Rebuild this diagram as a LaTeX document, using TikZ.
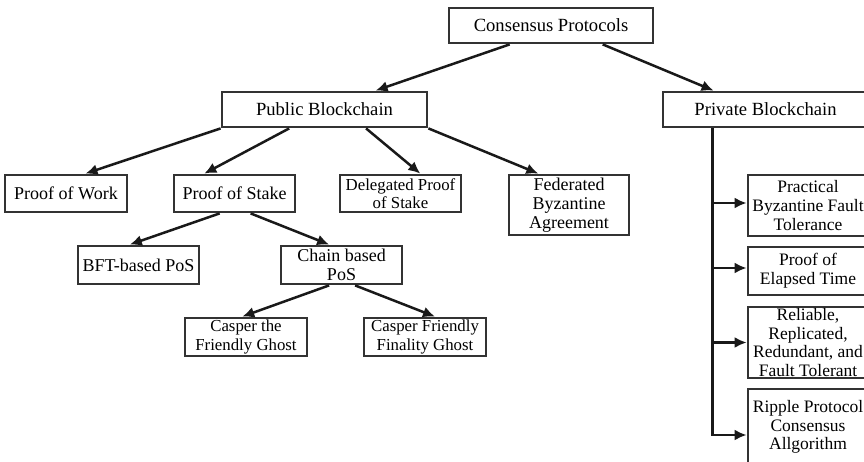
\documentclass[tikz,border=0pt]{standalone}
\usepackage{fontspec}
\setmainfont{Liberation Serif}
\usetikzlibrary{arrows.meta,calc}
\tikzset{
  box/.style={draw=black!80, line width=2.8pt, fill=white, align=center, inner sep=0pt,
              font=\fontsize{18}{19}\selectfont},
  topbox/.style={box, font=\fontsize{18.6}{20}\selectfont, minimum height=35},
  smallbox/.style={box, font=\fontsize{16.8}{18.3}\selectfont},
  sidebox/.style={box, font=\fontsize{17.5}{18.6}\selectfont, minimum width=120},
  link/.style={line width=2.5pt, draw=black!90, -{Latex[length=12pt,width=11pt]}},
}
\begin{document}
\begin{tikzpicture}[x=1pt,y=-1pt]
\useasboundingbox (0,0) rectangle (864,462);

% first two levels
\node[topbox, minimum width=204] (cp)   at (551,25.5)   {Consensus Protocols};
\node[topbox, minimum width=205] (pub)  at (324.5,109.5) {Public Blockchain};
\node[topbox, minimum width=205] (priv) at (765.5,109.5) {Private Blockchain};

% public blockchain branch
\node[box, minimum width=122, minimum height=37] (pow) at (66,193.5)    {Proof of Work};
\node[box, minimum width=121, minimum height=37] (pos) at (234.5,193.5) {Proof of Stake};
\node[smallbox, minimum width=121, minimum height=37] (del) at (400.5,193.5) {Delegated Proof\\of Stake};
\node[box, minimum width=120, minimum height=60] (fed) at (569,205) {Federated\\Byzantine\\Agreement};

\node[box, minimum width=121, minimum height=38] (bft)   at (138.5,265) {BFT-based PoS};
\node[box, minimum width=121, minimum height=38] (chain) at (341.5,265) {Chain based\\PoS};

\node[smallbox, minimum width=122, minimum height=38] (cas)  at (246,337) {Casper the\\Friendly Ghost};
\node[smallbox, minimum width=122, minimum height=38] (cffg) at (425,337) {Casper Friendly\\Finality Ghost};

% private blockchain branch
\node[sidebox, minimum height=61] (pbft) at (808,205.5) {Practical\\Byzantine Fault\\Tolerance};
\node[sidebox, minimum height=48] (poet) at (808,271)   {Proof of\\Elapsed Time};
\node[sidebox, minimum height=71] (rrr)  at (808,342.5) {Reliable,\\Replicated,\\Redundant, and\\Fault Tolerant};
\node[sidebox, minimum height=76] (rpca) at (808,427)   {Ripple Protocol\\Consensus\\Allgorithm};

% connectors of the public tree
\draw[link] ($(cp.south west)!0.30!(cp.south east)$) -- ($(pub.north west)!0.746!(pub.north east)$);
\draw[link] ($(cp.south west)!0.75!(cp.south east)$) -- ($(priv.north west)!0.25!(priv.north east)$);

\draw[link] (pub.south west) -- ($(pow.north west)!0.656!(pow.north east)$);
\draw[link] ($(pub.south west)!0.33!(pub.south east)$) -- ($(pos.north west)!0.256!(pos.north east)$);
\draw[link] ($(pub.south west)!0.70!(pub.south east)$) -- ($(del.north west)!0.66!(del.north east)$);
\draw[link] (pub.south east) -- ($(fed.north west)!0.25!(fed.north east)$);

\draw[link] ($(pos.south west)!0.38!(pos.south east)$) -- ($(bft.north west)!0.43!(bft.north east)$);
\draw[link] ($(pos.south west)!0.63!(pos.south east)$) -- ($(chain.north west)!0.40!(chain.north east)$);

\draw[link] ($(chain.south west)!0.40!(chain.south east)$) -- ($(cas.north west)!0.47!(cas.north east)$);
\draw[link] ($(chain.south west)!0.61!(chain.south east)$) -- ($(cffg.north west)!0.58!(cffg.north east)$);

% trunk of the private tree
\coordinate (tk) at ($(priv.south west)!0.244!(priv.south east)$);
\coordinate (pbftin) at ($(pbft.west)+(0,-2.5)$);
\coordinate (poetin) at ($(poet.west)+(0,-3)$);
\coordinate (rpcain) at ($(rpca.west)+(0,8)$);
\draw[link] (tk) |- (rpcain);
\draw[link] (tk |- pbftin) -- (pbftin);
\draw[link] (tk |- poetin) -- (poetin);
\draw[link] (tk |- rrr.west) -- (rrr.west);
\end{tikzpicture}
\end{document}
